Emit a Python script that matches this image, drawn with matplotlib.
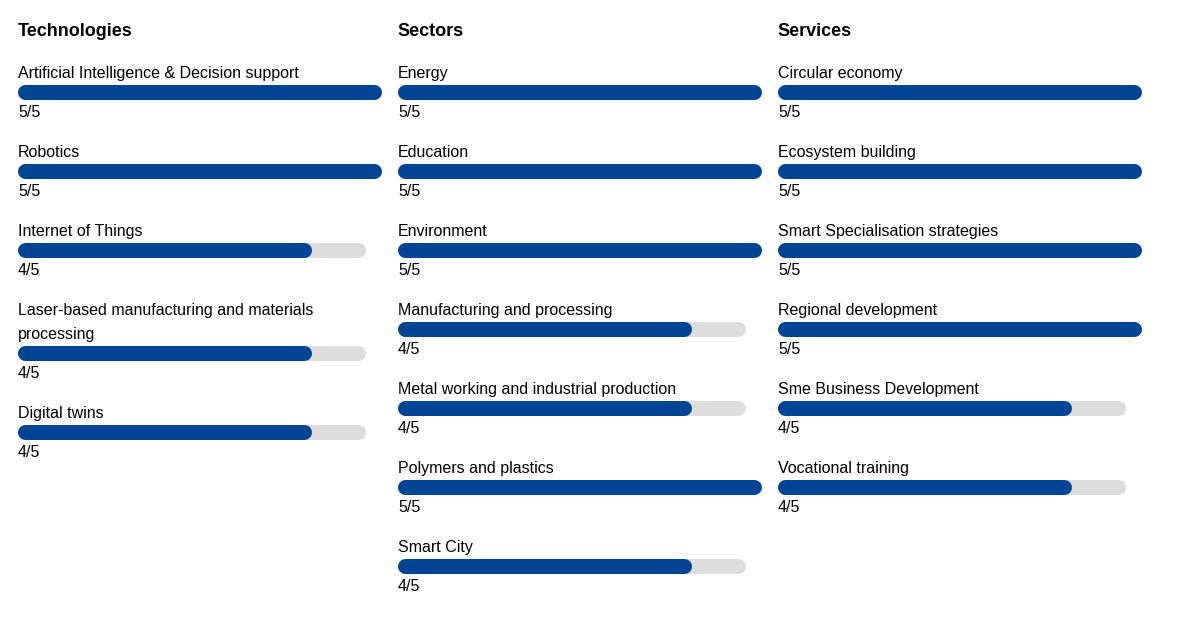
import matplotlib
matplotlib.use("Agg")
import matplotlib.pyplot as plt

# data
tech_labels = ["Artificial Intelligence & Decision support", "Robotics", "Internet of Things",
               "Laser-based manufacturing and materials\nprocessing", "Digital twins"]
tech_scores = [5, 5, 4, 4, 4]

sector_labels = ["Energy", "Education", "Environment", "Manufacturing and processing",
                 "Metal working and industrial production", "Polymers and plastics", "Smart City"]
sector_scores = [5, 5, 5, 4, 4, 5, 4]

service_labels = ["Circular economy", "Ecosystem building", "Smart Specialisation strategies",
                  "Regional development", "Sme Business Development", "Vocational training"]
service_scores = [5, 5, 5, 5, 4, 4]

MAX_SCORE = 5

BLUE = "#004494"
GREY = "#dddddd"
plt.rcParams['font.family'] = ['Liberation Sans', 'DejaVu Sans']

W, H = 1192, 631
fig = plt.figure(figsize=(W / 100, H / 100), dpi=100)
ax = fig.add_axes([0, 0, 1, 1])
ax.set_xlim(0, W)
ax.set_ylim(H, 0)
ax.axis('off')

TRACK = 348   # grey track width in px
BAR_H = 15    # bar thickness in px
lw = BAR_H * 72 / 100
r = BAR_H / 2


def draw_column(x0, title, labels, scores):
    ax.text(x0 - 0.5, 36, title, fontsize=13, fontweight='bold', va='baseline', ha='left')
    y = 78
    for label, score in zip(labels, scores):
        lines = label.split("\n")
        for i, line in enumerate(lines):
            ax.text(x0, y + 24 * i, line, fontsize=11.5, va='baseline', ha='left')
        y += 24 * (len(lines) - 1)
        yc = y + 14
        bx = x0 - 0.5
        ax.plot([bx + r, bx + TRACK - r], [yc, yc], color=GREY, lw=lw, solid_capstyle='round')
        fill = score / MAX_SCORE * TRACK + 16
        ax.plot([bx + r, bx + fill - r], [yc, yc], color=BLUE, lw=lw, solid_capstyle='round')
        ax.text(x0, y + 39, f"{score}/{MAX_SCORE}", fontsize=11.5, va='baseline', ha='left')
        y += 79


draw_column(18, "Technologies", tech_labels, tech_scores)
draw_column(398, "Sectors", sector_labels, sector_scores)
draw_column(778, "Services", service_labels, service_scores)

fig.savefig("out.png", dpi=100)
